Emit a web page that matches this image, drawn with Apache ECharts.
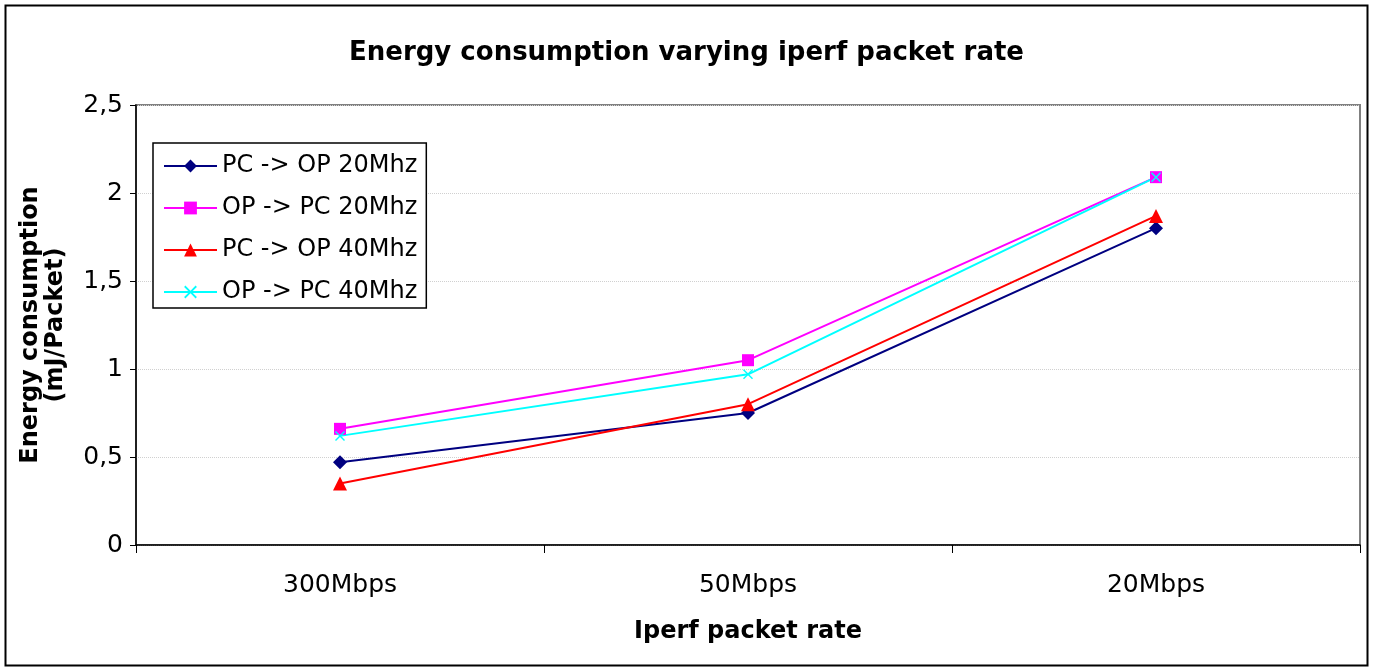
<!DOCTYPE html>
<html><head><meta charset="utf-8">
<script src="https://cdn.jsdelivr.net/npm/echarts@6/dist/echarts.min.js"></script>
<style>html,body{margin:0;padding:0;background:#fff}#c{width:1373px;height:671px}</style>
</head><body><div id="c"></div>
<script>
const categories = ['300Mbps', '50Mbps', '20Mbps'];
const pcOp20 = [0.47, 0.75, 1.80];
const opPc20 = [0.66, 1.05, 2.09];
const pcOp40 = [0.35, 0.80, 1.87];
const opPc40 = [0.62, 0.97, 2.09];
const seriesNames = ['PC -> OP 20Mhz', 'OP -> PC 20Mhz', 'PC -> OP 40Mhz', 'OP -> PC 40Mhz'];

const F = '"DejaVu Sans", sans-serif';
const xPath = 'path://M0,1 L1,0 L5,4 L9,0 L10,1 L6,5 L10,9 L9,10 L5,6 L1,10 L0,9 L4,5 Z';
function mk(name, data, color, symbol, size) {
  return { name, type: 'line', data, symbol, symbolSize: size,
    lineStyle: { color, width: 2 }, itemStyle: { color },
    emphasis: { disabled: true }, animation: false };
}
const chart = echarts.init(document.getElementById('c'));
chart.setOption({
  animation: false,
  title: { text: 'Energy consumption varying iperf packet rate', left: 'center', top: 35,
    textStyle: { fontFamily: F, fontSize: 26, fontWeight: 'bold', color: '#000' } },
  graphic: [{ type: 'rect', shape: { x: 5.5, y: 5.5, width: 1362, height: 660 },
    style: { fill: 'none', stroke: '#000', lineWidth: 2 }, z: -1 }],
  grid: { left: 136, right: 13, top: 105, bottom: 126, show: true,
    borderColor: '#808080', borderWidth: 2, backgroundColor: 'transparent' },
  legend: { orient: 'vertical', left: 153, top: 143, data: seriesNames,
    backgroundColor: '#fff', borderColor: '#000', borderWidth: 1.5,
    padding: [11, 9, 4, 10], itemGap: 18, itemWidth: 53, itemHeight: 16,
    textStyle: { fontFamily: F, fontSize: 24, color: '#000', lineHeight: 24 } },
  xAxis: { type: 'category', data: categories, boundaryGap: true,
    axisLine: { lineStyle: { color: '#000', width: 1.5 } },
    axisTick: { show: true, length: 8, lineStyle: { color: '#000' } },
    axisLabel: { fontFamily: F, fontSize: 25, color: '#000', margin: 28 },
    name: 'Iperf packet rate', nameLocation: 'middle', nameGap: 75,
    nameTextStyle: { fontFamily: F, fontSize: 24, fontWeight: 'bold', color: '#000' } },
  yAxis: { type: 'value', min: 0, max: 2.5, interval: 0.5,
    axisLine: { show: true, lineStyle: { color: '#000', width: 1.5 } },
    axisTick: { show: true, length: 6, lineStyle: { color: '#000' } },
    splitLine: { lineStyle: { color: '#d0d0d0', type: 'dotted' } },
    axisLabel: { fontFamily: F, fontSize: 25, color: '#000', margin: 13,
      formatter: v => String(v).replace('.', ',') },
    name: 'Energy consumption\n(mJ/Packet)', nameLocation: 'middle', nameGap: 68,
    nameTextStyle: { fontFamily: F, fontSize: 24, fontWeight: 'bold', color: '#000', lineHeight: 25 } },
  series: [
    mk(seriesNames[0], pcOp20, '#000080', 'diamond', 14),
    mk(seriesNames[1], opPc20, '#ff00ff', 'rect', 12),
    mk(seriesNames[2], pcOp40, '#ff0000', 'triangle', 14),
    mk(seriesNames[3], opPc40, '#00ffff', xPath, 10)
  ]
});
</script></body></html>
